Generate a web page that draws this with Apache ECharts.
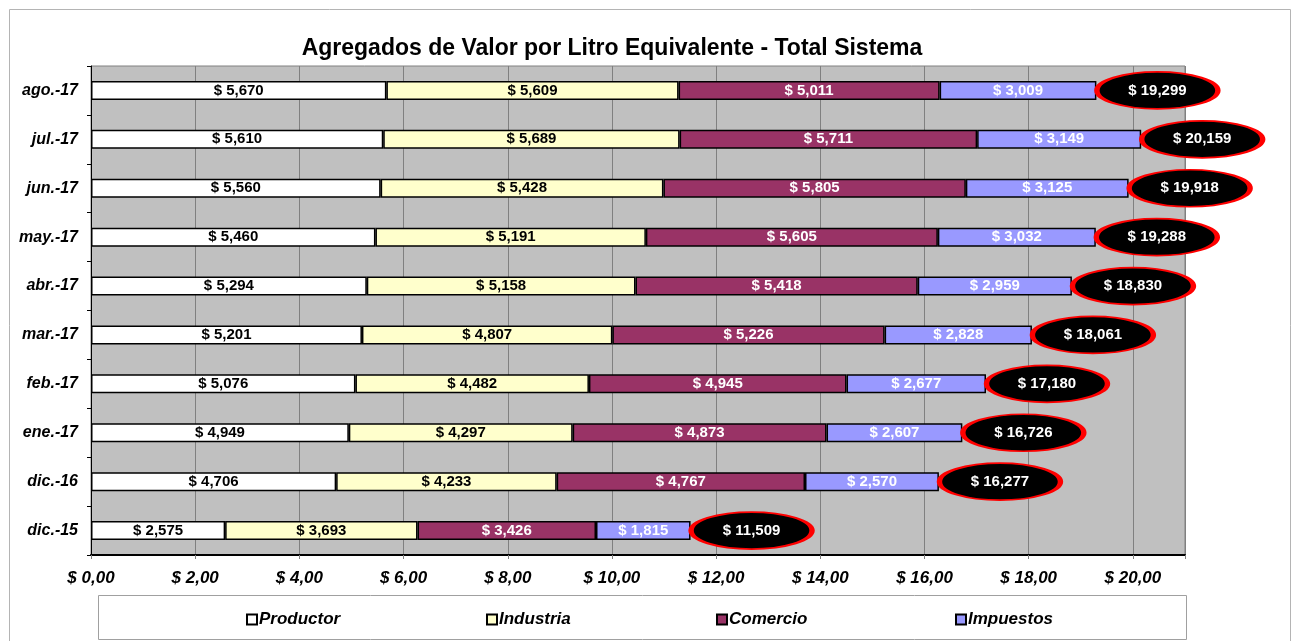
<!DOCTYPE html>
<html>
<head>
    <meta charset="utf-8">
    <title>Agregados de Valor</title>
    <script src="https://cdn.jsdelivr.net/npm/echarts@6/dist/echarts.min.js"></script>
</head>
<body style="margin:0">
<div id="main" style="width:1293px;height:641px;"></div>
<script type="text/javascript">
    // categorias (de arriba hacia abajo)
    var meses = ['ago.-17', 'jul.-17', 'jun.-17', 'may.-17', 'abr.-17', 'mar.-17', 'feb.-17', 'ene.-17', 'dic.-16', 'dic.-15'];
    var productor = [5.670, 5.610, 5.560, 5.460, 5.294, 5.201, 5.076, 4.949, 4.706, 2.575];
    var industria = [5.609, 5.689, 5.428, 5.191, 5.158, 4.807, 4.482, 4.297, 4.233, 3.693];
    var comercio  = [5.011, 5.711, 5.805, 5.605, 5.418, 5.226, 4.945, 4.873, 4.767, 3.426];
    var impuestos = [3.009, 3.149, 3.125, 3.032, 2.959, 2.828, 2.677, 2.607, 2.570, 1.815];
    var totales = [19.299, 20.159, 19.918, 19.288, 18.830, 18.061, 17.180, 16.726, 16.277, 11.509];
    var nombres = ['Productor', 'Industria', 'Comercio', 'Impuestos'];

    var font = 'Liberation Sans, Arial, sans-serif';
    function pesos(v, d) { return '$ ' + v.toFixed(d).replace('.', ','); }

    function serie(nombre, datos, color, txt) {
        return {
            name: nombre,
            type: 'bar',
            stack: 'total',
            barWidth: 19,
            data: datos,
            itemStyle: { color: color, borderColor: '#000', borderWidth: 1.5 },
            label: {
                show: true,
                position: 'inside',
                color: txt,
                fontFamily: font,
                fontWeight: 'bold',
                fontSize: 15,
                formatter: function (p) { return pesos(p.value, 3); }
            }
        };
    }

    // una leyenda por serie, repartidas en la caja
    var posLeyenda = [241, 481, 711, 950];
    var leyendas = nombres.map(function (n, i) {
        return {
            data: [n],
            left: posLeyenda[i],
            top: 606,
            itemWidth: 10,
            itemHeight: 10,
            itemGap: 0,
            icon: 'rect',
            textStyle: { fontFamily: font, fontSize: 17, fontWeight: 'bold', fontStyle: 'italic', color: '#000', padding: [0, 0, 0, -3] }
        };
    });

    var myChart = echarts.init(document.getElementById('main'));
    var option = {
        animation: false,
        backgroundColor: '#fff',
        title: {
            text: 'Agregados de Valor por Litro Equivalente - Total Sistema',
            left: 607,
            top: 32,
            textAlign: 'center',
            textStyle: { fontFamily: font, fontSize: 23, fontWeight: 'bold', color: '#000' }
        },
        graphic: [
            { type: 'rect', left: 7, top: 7, shape: { width: 1281, height: 645 }, style: { fill: 'none', stroke: '#b4b4b4', lineWidth: 1 }, silent: true },
            { type: 'rect', left: 98, top: 595, shape: { width: 1088, height: 44 }, style: { fill: '#fff', stroke: '#a0a0a0', lineWidth: 1 }, silent: true, z: -1 }
        ],
        legend: leyendas,
        grid: {
            left: 91,
            right: 108,
            top: 66,
            bottom: 86,
            show: true,
            backgroundColor: '#c0c0c0',
            borderColor: '#808080',
            borderWidth: 1
        },
        xAxis: {
            type: 'value',
            min: 0,
            max: 21,
            interval: 2,
            axisLine: { show: true, lineStyle: { color: '#000', width: 2 } },
            axisTick: { show: true, length: 4, lineStyle: { color: '#808080' } },
            splitLine: { show: true, lineStyle: { color: '#808080', width: 1 } },
            axisLabel: {
                margin: 15,
                fontFamily: font, fontSize: 17, fontWeight: 'bold', fontStyle: 'italic', color: '#000',
                formatter: function (v) { return v > 20 ? '' : pesos(v, 2); }
            }
        },
        yAxis: {
            type: 'category',
            inverse: true,
            data: meses,
            axisLine: { show: true, lineStyle: { color: '#000', width: 1 } },
            axisTick: { show: true, length: 4, lineStyle: { color: '#000' } },
            axisLabel: {
                margin: 13,
                fontFamily: font, fontSize: 16, fontWeight: 'bold', fontStyle: 'italic', color: '#000'
            }
        },
        series: [
            serie('Productor', productor, '#ffffff', '#000'),
            serie('Industria', industria, '#ffffcc', '#000'),
            serie('Comercio', comercio, '#993366', '#fff'),
            serie('Impuestos', impuestos, '#9999ff', '#fff'),
            {
                name: 'Total',
                type: 'scatter',
                z: 5,
                symbol: 'circle',
                symbolSize: [121, 37],
                symbolOffset: [61, 0],
                data: totales.map(function (t, i) { return [t, meses[i]]; }),
                itemStyle: { color: '#000', borderColor: '#ff0000', borderWidth: 3, opacity: 1 },
                label: {
                    show: true,
                    position: 'inside',
                    color: '#fff',
                    fontFamily: font,
                    fontWeight: 'bold',
                    fontSize: 15,
                    formatter: function (p) { return pesos(p.value[0], 3); }
                }
            }
        ]
    };
    myChart.setOption(option);
</script>
</body>
</html>
